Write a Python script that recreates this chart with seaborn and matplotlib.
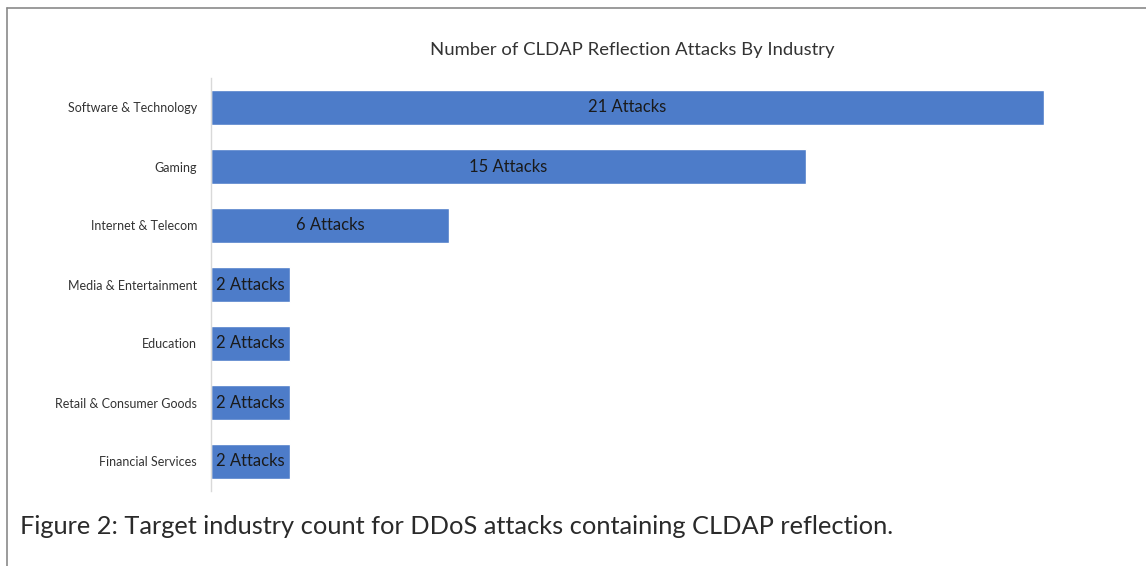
import matplotlib
matplotlib.use("Agg")
import numpy as np
import pandas as pd
import seaborn as sns
import matplotlib.pyplot as plt
from matplotlib.lines import Line2D

industries = ["Software & Technology", "Gaming", "Internet & Telecom",
              "Media & Entertainment", "Education", "Retail & Consumer Goods",
              "Financial Services"]
attacks = [21, 15, 6, 2, 2, 2, 2]

df = pd.DataFrame({"Industry": industries, "Attacks": attacks})

sns.set_style("white")
plt.rcParams['font.family'] = ['Lato', 'DejaVu Sans']

W, H = 1146, 566
fig = plt.figure(figsize=(W / 100, H / 100), dpi=100)
ax = fig.add_axes([211 / W, 1 - 491 / H, (1044 - 211) / W, (491 - 78) / H])

sns.barplot(data=df, x="Attacks", y="Industry", color="#4D7CC9",
            saturation=1, width=0.58, ax=ax)

ax.set_xlim(0, 21)
ax.set_ylim(6.5, -0.5)
ax.set_xlabel("")
ax.set_ylabel("")
ax.set_xticks([])
ax.tick_params(axis="y", length=0, pad=10, labelsize=9.0, labelcolor="#333333")

for s in ["top", "right", "bottom"]:
    ax.spines[s].set_visible(False)
ax.spines["left"].set_color("#d9d9d9")
ax.spines["left"].set_linewidth(1)

ax.bar_label(ax.containers[0], labels=[f"{v} Attacks" for v in attacks],
             label_type="center", fontsize=12, color="#1a1a1a")

fig.text(632 / W, 1 - 50 / H, "Number of CLDAP Reflection Attacks By Industry",
         ha="center", va="center", fontsize=13.3, color="#333333")

fig.text(20 / W, 1 - 526 / H,
         "Figure 2: Target industry count for DDoS attacks containing CLDAP reflection.",
         ha="left", va="center", fontsize=18.3, color="#2a2a2a")

# page frame lines
fig.add_artist(Line2D([6.5 / W, 1], [1 - 8 / H, 1 - 8 / H], color="#8a8a8a", lw=1.2))
fig.add_artist(Line2D([6.5 / W, 6.5 / W], [0, 1 - 8 / H], color="#8a8a8a", lw=1.2))

fig.savefig("out.png", dpi=100, facecolor="white")
